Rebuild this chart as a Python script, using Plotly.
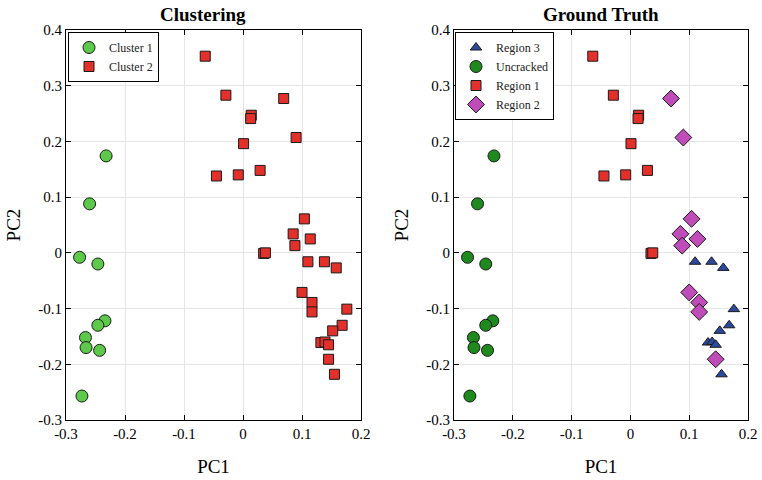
import plotly.graph_objects as go

# ---- Data (PC1, PC2) ----
uncracked_x = [-0.232, -0.260, -0.277, -0.246, -0.234, -0.246, -0.267, -0.266, -0.243, -0.273]
uncracked_y = [0.174, 0.088, -0.008, -0.020, -0.122, -0.130, -0.152, -0.170, -0.175, -0.257]

region1_x = [-0.064, -0.029, 0.014, 0.013, 0.001, -0.045, -0.008, 0.029, 0.035, 0.038]
region1_y = [0.353, 0.283, 0.247, 0.241, 0.196, 0.138, 0.140, 0.148, -0.001, 0.000]

region2_x = [0.069, 0.090, 0.104, 0.085, 0.114, 0.088, 0.100, 0.117, 0.117, 0.145]
region2_y = [0.277, 0.207, 0.061, 0.034, 0.025, 0.013, -0.071, -0.089, -0.106, -0.191]

region3_x = [0.110, 0.138, 0.158, 0.176, 0.168, 0.152, 0.132, 0.139, 0.145, 0.155]
region3_y = [-0.016, -0.016, -0.027, -0.101, -0.130, -0.140, -0.161, -0.160, -0.165, -0.218]

cluster1_x = uncracked_x
cluster1_y = uncracked_y
cluster2_x = region1_x + region2_x + region3_x
cluster2_y = region1_y + region2_y + region3_y

x_ticks = [-0.3, -0.2, -0.1, 0, 0.1, 0.2]
x_tick_labels = ["-0.3", "-0.2", "-0.1", "0", "0.1", "0.2"]
y_ticks = [-0.3, -0.2, -0.1, 0, 0.1, 0.2, 0.3, 0.4]
y_tick_labels = ["-0.3", "-0.2", "-0.1", "0", "0.1", "0.2", "0.3", "0.4"]

FONT = "Liberation Serif, Times New Roman, serif"
RED = "#e3302a"
LGREEN = "#5cc94b"
DGREEN = "#1e8a1e"
BLUE = "#2b4a9e"
MAGENTA = "#c04cba"
EDGE = dict(color="#1a1a1a", width=1)

fig = go.Figure()

# Left: Clustering
fig.add_trace(go.Scatter(x=cluster1_x, y=cluster1_y, mode="markers", name="Cluster 1",
                         marker=dict(symbol="circle", size=12, color=LGREEN, line=EDGE),
                         xaxis="x", yaxis="y", legend="legend"))
fig.add_trace(go.Scatter(x=cluster2_x, y=cluster2_y, mode="markers", name="Cluster 2",
                         marker=dict(symbol="square", size=10, color=RED, line=EDGE),
                         xaxis="x", yaxis="y", legend="legend"))

# Right: Ground Truth
fig.add_trace(go.Scatter(x=region3_x, y=region3_y, mode="markers", name="Region 3",
                         marker=dict(symbol="triangle-up", size=10, color=BLUE, line=EDGE),
                         xaxis="x2", yaxis="y2", legend="legend2"))
fig.add_trace(go.Scatter(x=uncracked_x, y=uncracked_y, mode="markers", name="Uncracked",
                         marker=dict(symbol="circle", size=12, color=DGREEN, line=EDGE),
                         xaxis="x2", yaxis="y2", legend="legend2"))
fig.add_trace(go.Scatter(x=region1_x, y=region1_y, mode="markers", name="Region 1",
                         marker=dict(symbol="square", size=10, color=RED, line=EDGE),
                         xaxis="x2", yaxis="y2", legend="legend2"))
fig.add_trace(go.Scatter(x=region2_x, y=region2_y, mode="markers", name="Region 2",
                         marker=dict(symbol="diamond", size=13, color=MAGENTA, line=EDGE),
                         xaxis="x2", yaxis="y2", legend="legend2"))

ML, MR, MT, MB = 66, 14, 30, 60
W, H = 762, 480
PW = W - ML - MR
PH = H - MT - MB

def xpx(px):
    return (px - ML) / PW

def ypx(py):
    return (H - MB - py) / PH

axis_common = dict(
    showline=True, linecolor="black", linewidth=1, mirror="ticks",
    ticks="inside", ticklen=5, tickcolor="black",
    showgrid=True, gridcolor="#e5e5e5", gridwidth=1,
    zeroline=False, automargin=False,
    tickfont=dict(family=FONT, size=15, color="black"),
)

xa = dict(axis_common, range=[-0.3, 0.2], tickvals=x_ticks, ticktext=x_tick_labels,
          title=dict(text="PC1", font=dict(family=FONT, size=19, color="black"), standoff=18))
ya = dict(axis_common, range=[-0.3, 0.4], tickvals=y_ticks, ticktext=y_tick_labels,
          title=dict(text="PC2", font=dict(family=FONT, size=19, color="black"), standoff=12))

legend_common = dict(
    bgcolor="white", bordercolor="black", borderwidth=1,
    font=dict(family=FONT, size=12, color="#222"),
    xanchor="left", yanchor="top", tracegroupgap=0,
    itemwidth=30,
)

fig.update_layout(
    width=W, height=H,
    font=dict(family=FONT, color="black"),
    margin=dict(l=ML, r=MR, t=MT, b=MB, autoexpand=False),
    paper_bgcolor="white", plot_bgcolor="white",
    xaxis=dict(xa, domain=[0, xpx(361)], anchor="y"),
    yaxis=dict(ya, domain=[0, 1], anchor="x"),
    xaxis2=dict(xa, domain=[xpx(454), 1], anchor="y2"),
    yaxis2=dict(ya, domain=[0, 1], anchor="x2"),
    legend=dict(legend_common, x=xpx(68), y=ypx(32)),
    legend2=dict(legend_common, x=xpx(455), y=ypx(32)),
    annotations=[
        dict(text="<b>Clustering</b>", x=xpx(203), y=1, xref="paper", yref="paper",
             xanchor="center", yanchor="bottom", yshift=3, showarrow=False,
             font=dict(family=FONT, size=19, color="black")),
        dict(text="<b>Ground Truth</b>", x=xpx(601), y=1, xref="paper", yref="paper",
             xanchor="center", yanchor="bottom", yshift=3, showarrow=False,
             font=dict(family=FONT, size=19, color="black")),
    ],
)

fig.write_html(
    "out.html",
    config={"displayModeBar": False},
    post_script="document.body.style.margin='0px';document.body.style.overflow='hidden';",
)
